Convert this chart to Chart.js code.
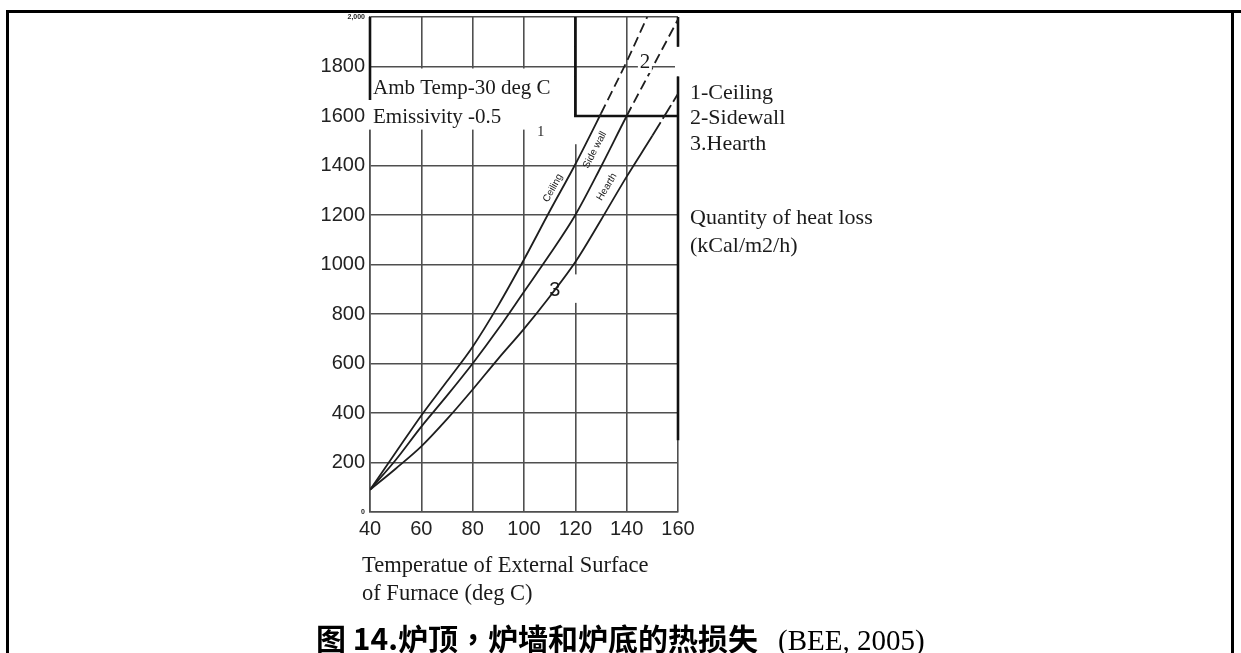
<!DOCTYPE html>
<html>
<head>
<meta charset="utf-8">
<title>炉顶，炉墙和炉底的热损失</title>
<script src="https://cdn.jsdelivr.net/npm/chart.js@4.4.1/dist/chart.umd.min.js"></script>
<style>
  html, body { margin: 0; padding: 0; background: #fff; }
  #wrap { position: relative; width: 1241px; height: 653px; overflow: hidden; background: #fff; }
  #chart { position: absolute; left: 0; top: 0; }
  .rule { position: absolute; background: #000; }
  .t { position: absolute; font-family: "Liberation Serif", "DejaVu Serif", serif; font-size: 22px;
       line-height: 26px; color: #1a1a1a; white-space: nowrap; }
  .cap { position: absolute; left: 316px; top: 621px; white-space: nowrap; color: #000;
         font-family: "Noto Sans CJK SC", sans-serif; font-weight: 700; font-size: 30px; line-height: 32px; }
  .cap .tc { font-family: "Noto Sans CJK TC", sans-serif; }
  .cap .src { font-family: "Liberation Serif", serif; font-weight: 400; font-size: 29px; margin-left: 20px; }
</style>
</head>
<body>
<div id="wrap">
  <canvas id="chart" width="1241" height="653"></canvas>

  <!-- page frame -->
  <div class="rule" style="left:6px; top:10px; width:1235px; height:3px;"></div>
  <div class="rule" style="left:6px; top:10px; width:3px; height:643px;"></div>
  <div class="rule" style="left:1231px; top:10px; width:3px; height:643px;"></div>

  <!-- key and y-axis title on the right -->
  <div class="t" style="left:690px; top:79px;">1-Ceiling</div>
  <div class="t" style="left:690px; top:104px;">2-Sidewall</div>
  <div class="t" style="left:690px; top:130px;">3.Hearth</div>
  <div class="t" style="left:690px; top:204px;">Quantity of heat loss</div>
  <div class="t" style="left:690px; top:232px;">(kCal/m2/h)</div>

  <!-- x-axis title -->
  <div class="t" style="left:362px; top:552px; font-size:22.5px;">Temperatue of External Surface</div>
  <div class="t" style="left:362px; top:580px; font-size:22.5px;">of Furnace (deg C)</div>

  <!-- figure caption -->
  <div class="cap">图 14.炉顶<span class="tc">，</span>炉墙和炉底的热损失<span class="src">(BEE, 2005)</span></div>
</div>

<script>
// Surface temperature (deg C) and heat loss (kCal/m2/h) for each surface
const ceilingTemps  = [40, 50, 60, 70, 80, 90, 100, 110, 120, 130, 140, 148];
const ceilingLoss   = [90, 240, 390, 528, 668, 835, 1020, 1215, 1405, 1610, 1820, 2000];

const sidewallTemps = [40, 50, 60, 70, 80, 90, 100, 110, 120, 130, 140, 150, 160];
const sidewallLoss  = [90, 210, 345, 470, 600, 740, 890, 1040, 1200, 1395, 1600, 1795, 1990];

const hearthTemps   = [40, 50, 60, 70, 80, 90, 100, 110, 120, 130, 140, 150, 160];
const hearthLoss    = [90, 175, 265, 375, 495, 620, 740, 870, 1010, 1180, 1355, 1520, 1690];

// Tick labels
const xTickLabels = ['40', '60', '80', '100', '120', '140', '160'];
const yTickLabels = ['0', '200', '400', '600', '800', '1000', '1200', '1400', '1600', '1800', '2,000'];

const toPoints = (xs, ys) => xs.map((t, i) => ({ x: t, y: ys[i] }));

const INK = '#1e1e1e';
const GRID = '#4f4f4f';

// Extra drawing: note panel, heavy rules and the in-plot labels
const decor = {
  id: 'decor',
  beforeDatasetsDraw(chart) {
    const { ctx, scales: { x, y } } = chart;
    const X = v => x.getPixelForValue(v);
    const Y = v => y.getPixelForValue(v);
    ctx.save();

    // blank panel holding the conditions note, and breaks in the rules
    ctx.fillStyle = '#fff';
    ctx.fillRect(X(40) - 2, Y(1792), X(120) - X(40) + 1, Y(1545) - Y(1792));
    ctx.fillRect(X(120) - 2, Y(1600) + 1, 4, Y(1490) - Y(1600));
    ctx.fillRect(X(120) - 2, Y(960), 4, Y(845) - Y(960));
    ctx.fillRect(X(160) - 3, Y(1880), 6, Y(1760) - Y(1880));

    // heavy rules
    ctx.strokeStyle = '#111';
    ctx.lineWidth = 2.6;
    ctx.beginPath();
    ctx.moveTo(X(120), Y(2000)); ctx.lineTo(X(120), Y(1600)); ctx.lineTo(X(160), Y(1600));
    ctx.moveTo(X(160), Y(2000)); ctx.lineTo(X(160), Y(1880));
    ctx.moveTo(X(160), Y(1760)); ctx.lineTo(X(160), Y(290));
    ctx.moveTo(X(40), Y(2000));  ctx.lineTo(X(40), Y(1665));
    ctx.stroke();

    // conditions note
    ctx.fillStyle = '#1a1a1a';
    ctx.font = '21px "Liberation Serif"';
    ctx.textBaseline = 'middle';
    ctx.textAlign = 'left';
    ctx.fillText('Amb Temp-30 deg C', X(40) + 3, Y(1713));
    ctx.fillText('Emissivity -0.5', X(40) + 3, Y(1596));
    ctx.restore();
  },
  afterDatasetsDraw(chart) {
    const { ctx, scales: { x, y } } = chart;
    const X = v => x.getPixelForValue(v);
    const Y = v => y.getPixelForValue(v);
    const slope = (ts, ls, i, j) => Math.atan2(Y(ls[j]) - Y(ls[i]), X(ts[j]) - X(ts[i]));

    ctx.save();
    ctx.fillStyle = '#1a1a1a';
    ctx.textAlign = 'center';
    ctx.textBaseline = 'middle';

    const along = (text, t, v, angle) => {
      ctx.save();
      ctx.translate(X(t), Y(v));
      ctx.rotate(angle);
      ctx.fillText(text, 0, 0);
      ctx.restore();
    };
    ctx.font = '10px "Liberation Sans"';
    along('Ceiling',   111.3, 1309, slope(ceilingTemps, ceilingLoss, 7, 8));
    along('Side wall', 127.6, 1463, slope(sidewallTemps, sidewallLoss, 8, 10));
    along('Hearth',    132.3, 1313, slope(hearthTemps, hearthLoss, 9, 10));

    // curve numbers
    ctx.font = '14px "Liberation Serif"';
    ctx.fillText('1', X(106.5), Y(1535));

    ctx.fillStyle = '#fff';
    ctx.fillRect(X(147.1) - 7, Y(1818) - 11, 14, 22);
    ctx.fillStyle = '#1a1a1a';
    ctx.font = '21px "Liberation Serif"';
    ctx.fillText('2', X(147.1), Y(1818));

    ctx.font = '20px "Liberation Sans"';
    ctx.fillText('3', X(112), Y(895));
    ctx.restore();
  }
};

const dashAbove = (level, pattern) => c => (c.p0.parsed.y >= level ? pattern : undefined);

new Chart(document.getElementById('chart'), {
  type: 'line',
  data: {
    datasets: [
      {
        label: 'Ceiling',
        data: toPoints(ceilingTemps, ceilingLoss),
        segment: { borderDash: dashAbove(1600, [10, 5]) }
      },
      {
        label: 'Side wall',
        data: toPoints(sidewallTemps, sidewallLoss),
        segment: { borderDash: dashAbove(1590, [10, 5]) }
      },
      {
        label: 'Hearth',
        data: toPoints(hearthTemps, hearthLoss),
        segment: { borderDash: dashAbove(1500, [16, 4]) }
      }
    ]
  },
  options: {
    responsive: false,
    animation: false,
    devicePixelRatio: 1,
    layout: { padding: { left: 300, top: 17, right: 563, bottom: 100 } },
    plugins: { legend: { display: false }, tooltip: { enabled: false } },
    elements: {
      point: { radius: 0 },
      line: { borderColor: INK, borderWidth: 1.8, cubicInterpolationMode: 'monotone', fill: false }
    },
    scales: {
      x: {
        type: 'linear',
        min: 40, max: 160,
        ticks: {
          stepSize: 20,
          padding: 5,
          color: '#222',
          font: { family: 'Liberation Sans', size: 20 },
          callback: (v, i) => xTickLabels[i]
        },
        grid: { color: GRID, lineWidth: 1.6, drawTicks: false },
        border: { display: true, color: GRID, width: 1.6 },
        afterFit: s => { s.height = 41; }
      },
      y: {
        type: 'linear',
        min: 0, max: 2000,
        ticks: {
          stepSize: 200,
          padding: 5,
          color: '#222',
          font: c => (c.tick && (c.tick.value === 0 || c.tick.value === 2000))
            ? { family: 'Liberation Sans', size: 7, weight: 'bold' }
            : { family: 'Liberation Sans', size: 20 },
          callback: (v, i) => yTickLabels[i]
        },
        grid: { color: GRID, lineWidth: 1.6, drawTicks: false },
        border: { display: true, color: GRID, width: 1.6 },
        afterFit: s => { s.width = 70; }
      }
    }
  },
  plugins: [decor]
});
</script>
</body>
</html>
